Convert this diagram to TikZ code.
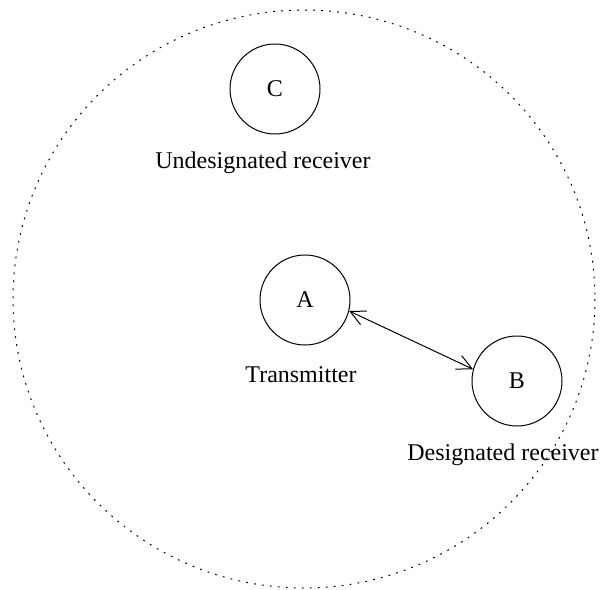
\documentclass[tikz,border=0pt]{standalone}
\usepackage{fontspec}
\setmainfont{Liberation Serif}
\usetikzlibrary{arrows.meta}

\begin{document}
\begin{tikzpicture}[
    x=0.5pt, y=-0.5pt,
    station/.style={circle, draw=black, line width=0.5pt, minimum size=45pt, inner sep=0pt, font=\fontsize{12}{14}\selectfont},
    caption/.style={font=\fontsize{12}{14}\selectfont},
    link/.style={{Straight Barb[length=7.5pt,width=7.5pt]}-{Straight Barb[length=7.5pt,width=7.5pt]}, line width=0.5pt},
    coverage/.style={line width=0.5pt, dash pattern=on 0.9pt off 3.1pt}
  ]
    \useasboundingbox (0,0) rectangle (607,590);

    % coverage area of the transmitter
    \draw[coverage] (304,299) ellipse [x radius=291, y radius=289];

    % the three stations
    \node[station] (C) at (275,89) {C};
    \node[station] (A) at (305,300) {A};
    \node[station] (B) at (517,381) {B};

    % captions under the stations
    \node[caption] (Ccap) at (263,163) {Undesignated receiver};
    \node[caption] (Acap) at (301,375) {Transmitter};
    \node[caption] (Bcap) at (503,455) {Designated receiver};

    % link between transmitter and designated receiver
    \draw[link] (A.-14) -- (B.165);

  \end{tikzpicture}
\end{document}
